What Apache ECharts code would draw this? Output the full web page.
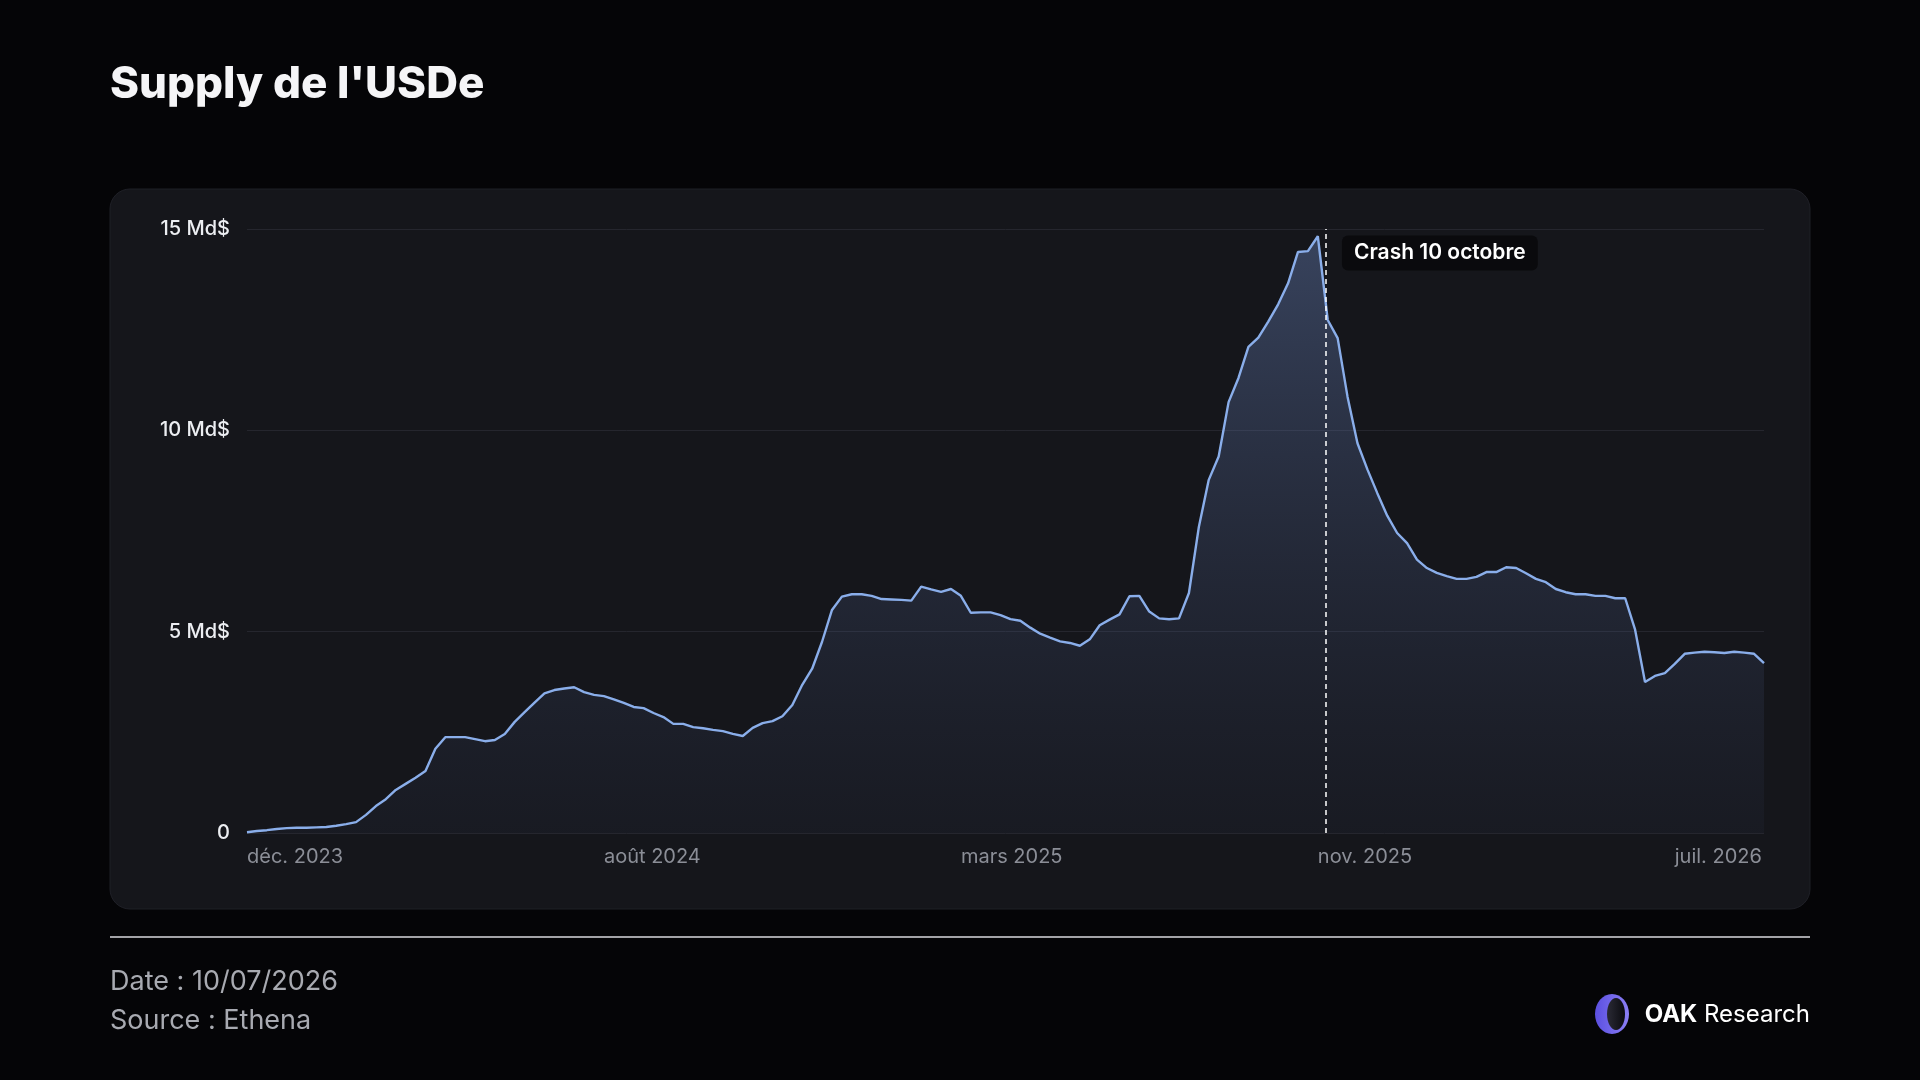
<!DOCTYPE html>
<html>
<head>
<meta charset="utf-8">
<title>Supply de l'USDe</title>
<script src="https://cdn.jsdelivr.net/npm/echarts@6/dist/echarts.min.js"></script>
<style>
    html,body{margin:0;padding:0;background:#050507;}
    #main{width:1920px;height:1080px;}
</style>
</head>
<body>
<div id="main"></div>
<script>
// supply de l'USDe, en Md$ (un point tous les ~6 jours, déc. 2023 -> juil. 2026)
var supply=[
    0.02,0.05,0.07,0.10,0.12,0.13,0.13,0.14,0.15,0.18,
    0.22,0.27,0.45,0.67,0.84,1.07,1.22,1.37,1.54,2.09,
    2.38,2.38,2.38,2.33,2.28,2.31,2.46,2.76,3.00,3.24,
    3.47,3.55,3.59,3.62,3.50,3.43,3.40,3.32,3.23,3.13,
    3.10,2.98,2.88,2.71,2.71,2.63,2.60,2.56,2.53,2.46,
    2.41,2.61,2.73,2.78,2.90,3.18,3.68,4.08,4.75,5.54,
    5.87,5.93,5.93,5.89,5.81,5.80,5.79,5.77,6.12,6.05,
    5.99,6.06,5.89,5.47,5.48,5.48,5.41,5.31,5.27,5.10,
    4.95,4.85,4.76,4.72,4.65,4.81,5.16,5.30,5.43,5.88,
    5.89,5.50,5.33,5.31,5.33,5.96,7.60,8.77,9.35,10.70,
    11.30,12.07,12.30,12.70,13.13,13.65,14.43,14.45,14.82,12.74,
    12.29,10.83,9.68,9.03,8.44,7.88,7.45,7.20,6.79,6.58,
    6.46,6.38,6.31,6.31,6.36,6.48,6.48,6.60,6.58,6.45,
    6.31,6.23,6.06,5.98,5.93,5.93,5.89,5.89,5.83,5.83,
    5.05,3.75,3.90,3.97,4.20,4.45,4.48,4.50,4.49,4.47,
    4.50,4.48,4.45,4.22
];
var xTickLabels=['déc. 2023','août 2024','mars 2025','nov. 2025','juil. 2026'];
var xTickStep=36;
var yTicks=[0,5,10,15];
var crashIndex=108.77;   // 10 octobre 2025, entre deux points
var crashLabel='Crash 10 octobre';

var font='Inter, "Noto Sans", sans-serif';

window.onload=function(){
    var chart=echarts.init(document.getElementById('main'));
    var data=supply.map(function(v,i){return [i,v];});

    chart.setOption({
        animation:false,
        backgroundColor:'#050507',
        textStyle:{fontFamily:font},
        graphic:[
            // carte du graphique
            {
                type:'rect',z:-10,
                shape:{x:110,y:189,width:1700,height:720,r:20},
                style:{fill:'#15161b',stroke:'#1f2027',lineWidth:1}
            },
            {
                type:'text',left:110,top:63,
                style:{text:"Supply de l'USDe",fill:'#f5f5f7',font:'800 44px '+font}
            },
            {
                type:'line',
                shape:{x1:110,y1:937,x2:1810,y2:937},
                style:{stroke:'#d9d9de',lineWidth:1.5}
            },
            {
                type:'text',left:110,top:968,
                style:{text:'Date : 10/07/2026',fill:'#a8aab1',font:'27px '+font}
            },
            {
                type:'text',left:110,top:1007,
                style:{text:'Source : Ethena',fill:'#a8aab1',font:'27px '+font}
            },
            // logo OAK
            {
                type:'ellipse',
                shape:{cx:1612,cy:1014,rx:17,ry:20},
                style:{fill:new echarts.graphic.LinearGradient(0,0,1,0,[
                    {offset:0,color:'#5b4fe0'},{offset:1,color:'#8b7ff5'}
                ])}
            },
            {
                type:'ellipse',
                shape:{cx:1616,cy:1014,rx:9,ry:16},
                style:{fill:new echarts.graphic.LinearGradient(0,0,1,0,[
                    {offset:0,color:'#2a2a35'},{offset:1,color:'#0b0b10'}
                ])}
            },
            {
                type:'text',right:110,top:1003,
                style:{
                    text:'{b|OAK}  {r|Research}',
                    rich:{
                        b:{fill:'#ffffff',font:'bold 24px '+font},
                        r:{fill:'#ffffff',font:'24px '+font}
                    }
                }
            }
        ],
        grid:{left:247,right:156,top:229,bottom:247,containLabel:false},
        xAxis:{
            type:'value',
            min:0,
            max:supply.length-1,
            interval:xTickStep,
            axisLine:{show:false},
            axisTick:{show:false},
            splitLine:{show:false},
            axisLabel:{
                show:true,
                showMaxLabel:false,
                align:'left',
                margin:14,
                color:'#8b8e97',
                fontSize:20,
                fontFamily:font,
                formatter:function(v){
                    return xTickLabels[v/xTickStep]||'';
                }
            }
        },
        yAxis:{
            type:'value',
            min:yTicks[0],
            max:yTicks[yTicks.length-1],
            interval:yTicks[1]-yTicks[0],
            axisLine:{show:false},
            axisTick:{show:false},
            splitLine:{lineStyle:{color:'#25262e',width:1}},
            axisLabel:{
                margin:17,
                color:'#eceef2',
                fontSize:20,
                fontWeight:500,
                fontFamily:font,
                formatter:function(v){
                    return v===0 ? '0' : v+' Md$';
                }
            }
        },
        series:[{
            type:'line',
            data:data,
            symbol:'none',
            lineStyle:{color:'#8aaeea',width:2.4},
            areaStyle:{
                color:new echarts.graphic.LinearGradient(0,0,0,1,[
                    {offset:0,color:'rgba(120,150,215,0.5)'},
                    {offset:1,color:'rgba(70,85,130,0.10)'}
                ])
            },
            markLine:{
                silent:true,
                symbol:'none',
                label:{show:false},
                lineStyle:{color:'#ffffff',type:[5,4],width:1.5},
                data:[{xAxis:crashIndex}]
            },
            markPoint:{
                silent:true,
                symbol:'rect',
                symbolSize:1,
                itemStyle:{color:'rgba(0,0,0,0)'},
                data:[{
                    coord:[crashIndex,yTicks[yTicks.length-1]],
                    label:{
                        show:true,
                        position:'right',
                        distance:16,
                        offset:[0,24],
                        formatter:crashLabel,
                        color:'#ffffff',
                        fontSize:21,
                        fontWeight:600,
                        fontFamily:font,
                        lineHeight:21,
                        backgroundColor:'#0a0a0d',
                        borderRadius:6,
                        padding:[7,12]
                    }
                }]
            }
        }]
    });
};
</script>
</body>
</html>
